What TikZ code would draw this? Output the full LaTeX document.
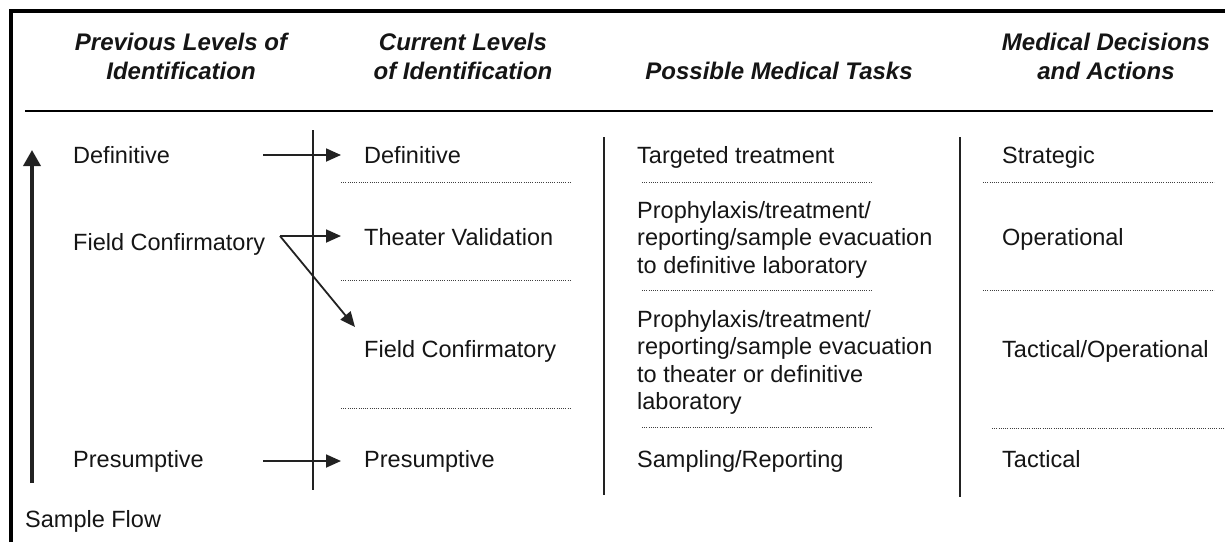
\documentclass[tikz,border=0pt]{standalone}
\usepackage{fontspec}
\setmainfont{Liberation Sans}
\usetikzlibrary{arrows.meta}
\definecolor{ink}{HTML}{151515}
\definecolor{rule}{HTML}{222222}
\begin{document}
\begin{tikzpicture}[x=1pt,y=-1pt,
  body/.style={anchor=base west,inner sep=0pt,text=ink,font=\fontsize{23.5}{27.5}\selectfont,align=left},
  head/.style={anchor=base,inner sep=0pt,text=ink,font=\fontsize{24}{29}\selectfont\bfseries\itshape,align=center},
  vrule/.style={draw=rule,line width=2.3pt},
  dotline/.style={draw=black!75,line width=0.9pt,dash pattern=on 0.9pt off 1.3pt},
  flow/.style={draw=rule,line width=1.8pt,-{Triangle[length=15pt,width=13pt]}},
  bigflow/.style={draw=rule,line width=3.6pt,-{Triangle[length=16pt,width=17pt]}}]
\useasboundingbox (0,0) rectangle (1225,542);
% frame
\draw[draw=black,line width=3.6pt] (11,542) -- (11,11) -- (1226,11);
% headers (base = last line)
\node[head] (h1) at (181,79.5) {Previous Levels of\\Identification};
\node[head] (h2) at (463,79.5) {Current Levels\\of Identification};
\node[head] (h3) at (779,79.5) {Possible Medical Tasks};
\node[head] (h4) at (1106,79.5) {Medical Decisions\\and Actions};
\draw[draw=black,line width=2.4pt] (25,111) -- (1213,111);
% vertical separators
\draw[vrule] (313,130) -- (313,490);
\draw[vrule] (604,137) -- (604,495);
\draw[vrule] (960,137) -- (960,497);
% column 1
\node[body] (p1) at (73,163) {Definitive};
\node[body] (p2) at (73,250) {Field Confirmatory};
\node[body] (p3) at (73,467) {Presumptive};
\node[body] (sf) at (25,527) {Sample Flow};
% column 2
\node[body] (c1) at (364,163) {Definitive};
\node[body] (c2) at (364,245) {Theater Validation};
\node[body] (c3) at (364,357) {Field Confirmatory};
\node[body] (c4) at (364,467) {Presumptive};
% column 3 (base = last line)
\node[body] (t1) at (637,163) {Targeted treatment};
\node[body] (t2) at (637,273) {Prophylaxis/treatment/\\reporting/sample evacuation\\to definitive laboratory};
\node[body] (t3) at (637,409.5) {Prophylaxis/treatment/\\reporting/sample evacuation\\to theater or definitive\\laboratory};
\node[body] (t4) at (637,467) {Sampling/Reporting};
% column 4
\node[body] (d1) at (1002,163) {Strategic};
\node[body] (d2) at (1002,245) {Operational};
\node[body] (d3) at (1002,357) {Tactical/Operational};
\node[body] (d4) at (1002,467) {Tactical};
% dotted separators
\draw[dotline] (341,182.5) -- (571,182.5);
\draw[dotline] (341,280) -- (571,280);
\draw[dotline] (341,408) -- (571,408);
\draw[dotline] (642,182.5) -- (872,182.5);
\draw[dotline] (642,290) -- (872,290);
\draw[dotline] (642,427) -- (872,427);
\draw[dotline] (983,182.5) -- (1214,182.5);
\draw[dotline] (983,290) -- (1214,290);
\draw[dotline] (992,428) -- (1225,428);
% arrows
\coordinate (a1s) at (263,155);
\coordinate (a1e) at (341,155);
\coordinate (a2s) at (280,236);
\coordinate (a2e) at (341,236);
\coordinate (a3e) at (355,327);
\coordinate (a4s) at (263,461);
\coordinate (a4e) at (341,461);
\coordinate (fs) at (32,483);
\coordinate (fe) at (32,150);
\draw[flow] (a1s) -- (a1e);
\draw[flow] (a2s) -- (a2e);
\draw[flow] (a2s) -- (a3e);
\draw[flow] (a4s) -- (a4e);
\draw[bigflow] (fs) -- (fe);
\end{tikzpicture}
\end{document}
